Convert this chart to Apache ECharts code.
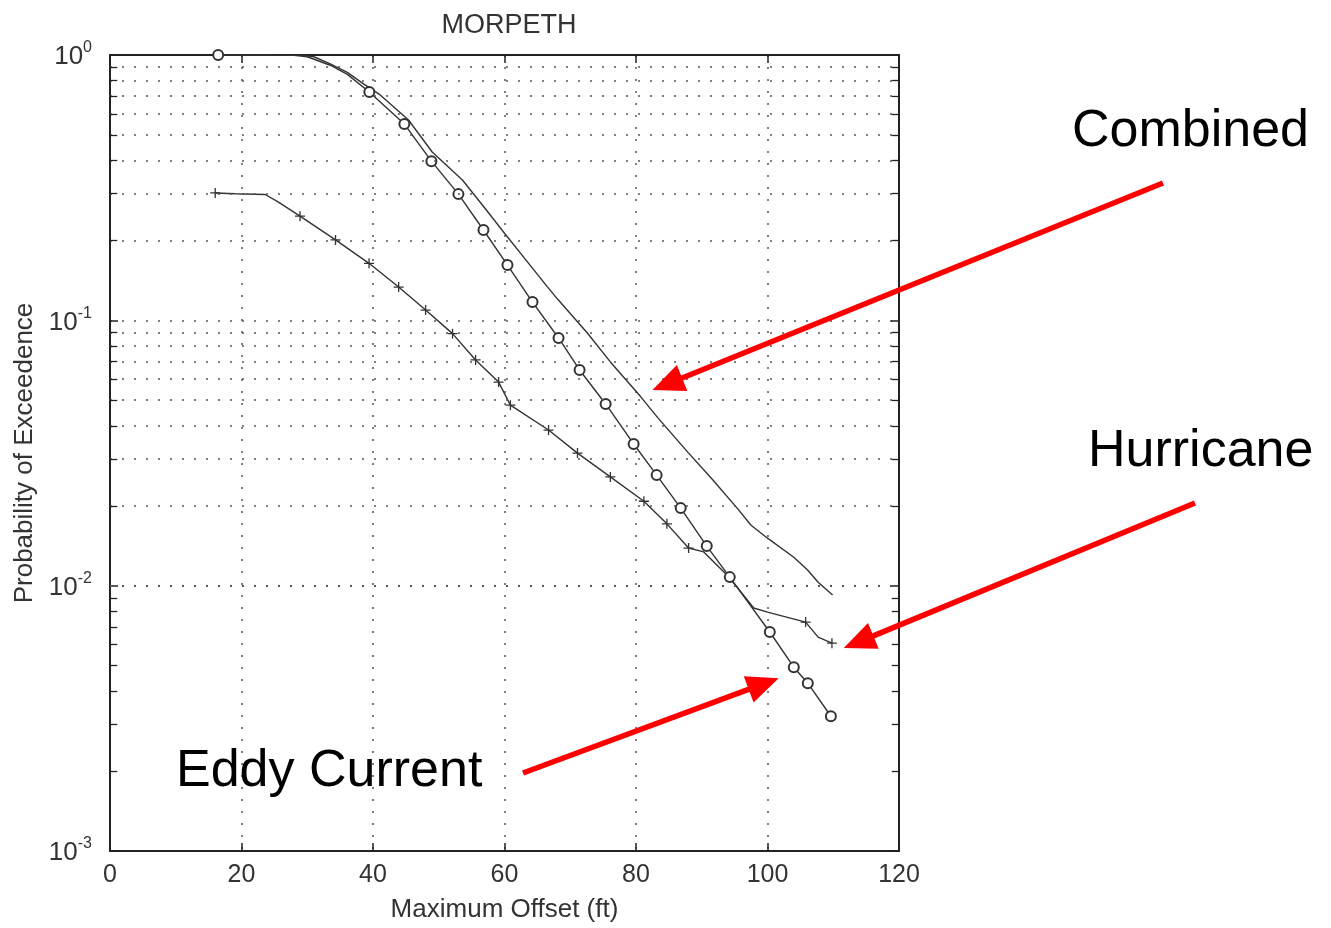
<!DOCTYPE html>
<html>
<head>
    <meta charset="utf-8">
    <title>MORPETH</title>
    <script src="https://cdn.jsdelivr.net/npm/echarts@6/dist/echarts.min.js"></script>
    <style>
        html, body { margin: 0; padding: 0; background: #fff; }
    </style>
</head>
<body>
    <div id="main" style="width: 1331px;height:928px;"></div>
    <script type="text/javascript">
        // [offset ft, probability, marker? 1/0]
        var eddyCurrent = [
            [16.45, 1.0, 1], [22, 1.0, 0], [28, 0.997, 0], [30, 0.985, 0], [33.5, 0.915, 0],
            [36.1, 0.845, 0], [39.44, 0.725, 1], [44.77, 0.549, 1], [48.88, 0.398, 1],
            [52.99, 0.299, 1], [56.8, 0.219, 1], [60.45, 0.1616, 1], [64.26, 0.1172, 1],
            [68.22, 0.0858, 1], [71.42, 0.065, 1], [75.38, 0.0484, 1], [79.64, 0.0342, 1],
            [83.14, 0.0261, 1], [86.8, 0.0196, 1], [90.76, 0.0141, 1], [94.26, 0.01077, 1],
            [100.35, 0.00669, 1], [104.0, 0.00493, 1], [106.13, 0.00429, 1], [109.64, 0.00322, 1]
        ];
        var hurricane = [
            [16.0, 0.302, 1], [19, 0.300, 0], [23.6, 0.298, 0], [25.5, 0.28, 0], [28.9, 0.247, 1],
            [34.3, 0.201, 1], [39.4, 0.164, 1], [43.9, 0.1335, 1], [48.0, 0.1093, 1],
            [52.1, 0.0891, 1], [55.6, 0.0709, 1], [59.1, 0.0585, 1], [60.9, 0.0479, 1],
            [66.7, 0.0386, 1], [71.1, 0.0316, 1], [76.1, 0.0257, 1], [81.2, 0.0208, 1],
            [84.7, 0.0171, 1], [88.0, 0.01386, 1], [90.3, 0.0134, 0], [94.1, 0.0108, 0],
            [97.9, 0.00824, 0], [100.0, 0.00795, 0], [105.8, 0.00729, 1], [107.7, 0.0064, 0],
            [109.8, 0.00607, 1]
        ];
        var combined = [
            [29, 1.0], [31, 0.985], [33.5, 0.925], [36.1, 0.86], [38.5, 0.78], [41.1, 0.707],
            [45.4, 0.569], [49.0, 0.431], [53.6, 0.338], [57, 0.265], [60, 0.213], [63, 0.172],
            [66.5, 0.134], [68.1, 0.12], [72.6, 0.0896], [76.1, 0.0697], [80.7, 0.0516],
            [83.3, 0.043], [87.9, 0.0318], [91.7, 0.025], [95.6, 0.0193], [97.5, 0.0169],
            [100.0, 0.0151], [104.0, 0.0128], [106.1, 0.01145], [107.7, 0.0103], [109.9, 0.00922]
        ];

        var xTicks = [0, 20, 40, 60, 80, 100, 120];
        var yDecades = [0.001, 0.01, 0.1, 1];
        var yMinor = [];   // 2..9 x each decade, for the dotted grid
        yDecades.slice(0, 3).forEach(function (d) {
            for (var k = 2; k <= 9; k++) yMinor.push(+(d * k).toPrecision(3));
        });

        // annotation: label text, label anchor (px), arrow tail (px), arrow tip (data)
        var notes = [
            { text: 'Combined', x: 1072, y: 132, tail: [1163, 183], tip: [82.5, 0.0546] },
            { text: 'Hurricane', x: 1088, y: 452, tail: [1195, 503], tip: [111.6, 0.00582] },
            { text: 'Eddy Current', x: 176, y: 772, tail: [523, 773], tip: [101.7, 0.00448] }
        ];

        var font = '"Liberation Sans", Arial, Helvetica, sans-serif';
        var ink = '#333';
        var dotted = { type: [2, 10], color: '#555', width: 1.5 };
        var xMin = xTicks[0], xMax = xTicks[xTicks.length - 1];

        var myChart = echarts.init(document.getElementById('main'));

        function markSize(v) { return v[2] ? 10 : 0; }

        // small inward minor ticks on left and right frame
        var minorTicks = [];
        yMinor.forEach(function (v) {
            minorTicks.push([{ coord: [xMin, v] }, { coord: [xMin + 1.1, v] }]);
            minorTicks.push([{ coord: [xMax - 1.1, v] }, { coord: [xMax, v] }]);
        });

        var option = {
            animation: false,
            backgroundColor: '#fff',
            title: {
                text: 'MORPETH', left: 504, top: 7, textAlign: 'center',
                textStyle: { fontFamily: font, fontSize: 27, fontWeight: 'normal', color: ink }
            },
            grid: { left: 110, right: 432, top: 55, bottom: 77 },
            xAxis: [{
                type: 'value', min: xMin, max: xMax, interval: 20,
                position: 'bottom',
                axisLine: { show: true, onZero: false, lineStyle: { color: '#222', width: 2 } },
                axisTick: { inside: true, length: 8, lineStyle: { color: '#222', width: 1.5 } },
                axisLabel: { fontFamily: font, fontSize: 25, color: ink, margin: 12 },
                splitLine: { show: true, lineStyle: dotted },
                name: 'Maximum Offset (ft)', nameLocation: 'middle', nameGap: 46,
                nameTextStyle: { fontFamily: font, fontSize: 26, color: ink }
            }, {
                type: 'value', min: xMin, max: xMax, interval: 20,
                position: 'top',
                axisLine: { show: true, onZero: false, lineStyle: { color: '#222', width: 2 } },
                axisTick: { inside: true, length: 8, lineStyle: { color: '#222', width: 1.5 } },
                axisLabel: { show: false },
                splitLine: { show: false }
            }],
            yAxis: [{
                type: 'log', logBase: 10, min: yDecades[0], max: yDecades[3],
                axisLine: { show: true, onZero: false, lineStyle: { color: '#222', width: 2 } },
                axisTick: { inside: true, length: 8, lineStyle: { color: '#222', width: 1.5 } },
                axisLabel: {
                    margin: 18,
                    formatter: function (v) {
                        var e = Math.round(Math.log10(v));
                        return '{b|10}{s|' + e + '}';
                    },
                    rich: {
                        b: { fontFamily: font, fontSize: 26, color: ink, lineHeight: 30, verticalAlign: 'bottom' },
                        s: { fontFamily: font, fontSize: 16, color: ink, lineHeight: 30, verticalAlign: 'top' }
                    }
                },
                splitLine: { show: true, lineStyle: dotted },
                name: 'Probability of Exceedence', nameLocation: 'middle', nameGap: 68,
                nameTextStyle: { fontFamily: font, fontSize: 26, color: ink }
            }, {
                type: 'log', logBase: 10, min: yDecades[0], max: yDecades[3], position: 'right',
                axisLine: { show: true, onZero: false, lineStyle: { color: '#222', width: 2 } },
                axisTick: { inside: true, length: 8, lineStyle: { color: '#222', width: 1.5 } },
                axisLabel: { show: false },
                splitLine: { show: false }
            }],
            series: [{
                name: 'grid', type: 'line', data: [], z: 1, silent: true,
                markLine: {
                    silent: true, symbol: 'none', animation: false,
                    label: { show: false },
                    lineStyle: dotted,
                    emphasis: { disabled: true },
                    data: yMinor.map(function (v) { return { yAxis: v }; })
                }
            }, {
                name: 'minorTicks', type: 'line', data: [], z: 2, silent: true,
                markLine: {
                    silent: true, symbol: 'none', animation: false,
                    label: { show: false },
                    lineStyle: { type: 'solid', color: '#222', width: 1.3 },
                    emphasis: { disabled: true },
                    data: minorTicks
                }
            }, {
                name: 'Combined', type: 'line', data: combined, z: 3,
                symbol: 'none',
                lineStyle: { color: ink, width: 1.4 }
            }, {
                name: 'Eddy Current', type: 'line', data: eddyCurrent, z: 3,
                symbol: 'emptyCircle', symbolSize: markSize,
                lineStyle: { color: ink, width: 1.4 },
                itemStyle: { color: ink, borderColor: ink, borderWidth: 1.2 }
            }, {
                name: 'Hurricane', type: 'line', data: hurricane, z: 3,
                symbol: 'path://M5,0L5,10M0,5L10,5', symbolSize: markSize,
                lineStyle: { color: ink, width: 1.4 },
                itemStyle: { color: ink, borderColor: ink, borderWidth: 1.3 }
            }]
        };

        myChart.setOption(option);

        // red annotation arrows and labels
        var graphics = [];
        notes.forEach(function (n) {
            var tip = myChart.convertToPixel({ gridIndex: 0 }, n.tip);
            var dx = tip[0] - n.tail[0], dy = tip[1] - n.tail[1];
            var len = Math.sqrt(dx * dx + dy * dy), ux = dx / len, uy = dy / len;
            var headLen = 32, headW = 14;
            var bx = tip[0] - ux * headLen, by = tip[1] - uy * headLen;
            graphics.push({
                type: 'line', z: 10,
                shape: { x1: n.tail[0], y1: n.tail[1], x2: bx + ux * 2, y2: by + uy * 2 },
                style: { stroke: '#ff0000', lineWidth: 5.5 }
            });
            graphics.push({
                type: 'polygon', z: 10,
                shape: { points: [tip, [bx - uy * headW, by + ux * headW], [bx + uy * headW, by - ux * headW]] },
                style: { fill: '#ff0000' }
            });
            graphics.push({
                type: 'text', z: 10,
                style: {
                    text: n.text, x: n.x, y: n.y, fill: '#000',
                    font: '52px ' + font, textAlign: 'left', textVerticalAlign: 'middle'
                }
            });
        });
        myChart.setOption({ graphic: graphics });
    </script>
</body>
</html>
